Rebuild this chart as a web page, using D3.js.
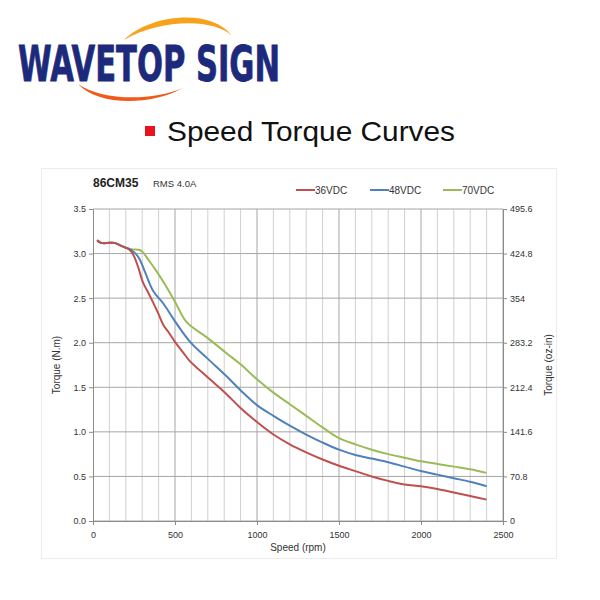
<!DOCTYPE html>
<html><head><meta charset="utf-8">
<script src="https://cdn.jsdelivr.net/npm/d3@7"></script>
<style>body{margin:0;background:#fff}</style>
</head><body>
<script>
const seriesNames = ["36VDC", "48VDC", "70VDC"];
const seriesColors = ["#c0504d", "#4f81bd", "#9bbb59"];
const speed36 = [25, 50, 100, 130, 180, 224, 245, 275, 306, 340, 367, 400, 429, 460, 500, 550, 592, 694, 816, 898, 1000, 1100, 1200, 1300, 1400, 1500, 1600, 1700, 1800, 1900, 2000, 2100, 2200, 2300, 2400];
const torque36 = [3.15, 3.12, 3.12, 3.12, 3.08, 3.04, 2.99, 2.85, 2.67, 2.55, 2.45, 2.32, 2.20, 2.12, 2.01, 1.89, 1.79, 1.62, 1.42, 1.27, 1.11, 0.97, 0.86, 0.77, 0.69, 0.62, 0.56, 0.50, 0.45, 0.41, 0.39, 0.36, 0.32, 0.28, 0.24];
const speed48 = [25, 50, 100, 130, 180, 224, 260, 286, 320, 367, 429, 500, 592, 694, 816, 898, 1000, 1100, 1200, 1300, 1400, 1500, 1600, 1700, 1800, 1900, 2000, 2100, 2200, 2300, 2400];
const torque48 = [3.15, 3.12, 3.12, 3.12, 3.08, 3.05, 3.00, 2.93, 2.78, 2.58, 2.44, 2.24, 2.01, 1.83, 1.62, 1.47, 1.30, 1.18, 1.07, 0.97, 0.88, 0.80, 0.74, 0.70, 0.66, 0.61, 0.56, 0.52, 0.48, 0.44, 0.39];
const speed70 = [25, 50, 100, 130, 180, 230, 286, 306, 350, 388, 440, 500, 571, 694, 816, 898, 1000, 1100, 1200, 1300, 1400, 1500, 1600, 1700, 1800, 1900, 2000, 2100, 2200, 2300, 2400];
const torque70 = [3.15, 3.12, 3.12, 3.12, 3.08, 3.05, 3.04, 3.01, 2.90, 2.80, 2.65, 2.46, 2.23, 2.06, 1.88, 1.76, 1.59, 1.44, 1.31, 1.18, 1.05, 0.93, 0.86, 0.80, 0.75, 0.71, 0.67, 0.64, 0.61, 0.58, 0.54];
const xTicks = [0, 500, 1000, 1500, 2000, 2500];
const yTicks = [0.0, 0.5, 1.0, 1.5, 2.0, 2.5, 3.0, 3.5];
const yRightTicks = ["0", "70.8", "141.6", "212.4", "283.2", "354", "424.8", "495.6"];

const svg = d3.select("body").append("svg").attr("width", 600).attr("height", 600);

// Logo
const logo = svg.append("g");
logo.append("path").attr("d", "M124,40 C150,14 212,8 232,36 C216,20 165,17 124,40 Z").attr("fill", "#f7a21b");
logo.append("path").attr("d", "M78,84 C100,100 150,102 183,88 C150,106 98,106 78,84 Z").attr("fill", "#f05a1a");
logo.append("text").attr("x", 18).attr("y", 81).attr("textLength", 262).attr("lengthAdjust", "spacingAndGlyphs")
  .attr("font-family", "Liberation Sans Narrow, Arial Narrow, DejaVu Sans Condensed, sans-serif").attr("font-weight", "bold")
  .attr("font-size", 49).attr("fill", "#1d2a7c").attr("stroke", "#1d2a7c").attr("stroke-width", 0.8).text("WAVETOP SIGN");

// Title
svg.append("rect").attr("x", 145).attr("y", 126).attr("width", 10).attr("height", 10).attr("fill", "#e8141c");
svg.append("text").attr("x", 167).attr("y", 141).attr("font-family", "Liberation Sans, Arial, sans-serif")
  .attr("font-size", 28).attr("textLength", 288).attr("lengthAdjust", "spacingAndGlyphs")
  .attr("fill", "#111").text("Speed Torque Curves");

// Chart panel border
svg.append("rect").attr("x", 41.5).attr("y", 168.5).attr("width", 515).attr("height", 390).attr("fill", "none").attr("stroke", "#ececec");

const x = d3.scaleLinear().domain([0, 2500]).range([93, 503]);
const y = d3.scaleLinear().domain([0, 3.5]).range([521, 209]);

// Grid
const g = svg.append("g");
d3.range(100, 2600, 100).forEach(v => {
  g.append("line").attr("x1", x(v)).attr("x2", x(v)).attr("y1", y(0)).attr("y2", y(3.5))
    .attr("stroke", v % 500 === 0 ? "#a6a6a6" : "#d0d0d0").attr("stroke-width", 1);
});
yTicks.forEach(v => {
  g.append("line").attr("x1", x(0)).attr("x2", x(2500)).attr("y1", y(v)).attr("y2", y(v))
    .attr("stroke", "#a6a6a6").attr("stroke-width", 1);
});

// Axes
const fontAxis = "Liberation Sans, Arial, sans-serif";
const xAxis = svg.append("g").attr("transform", `translate(0,${y(0)})`)
  .call(d3.axisBottom(x).tickValues(xTicks).tickSize(4).tickFormat(d3.format("d")));
const yAxis = svg.append("g").attr("transform", `translate(${x(0)},0)`)
  .call(d3.axisLeft(y).tickValues(yTicks).tickSize(4).tickFormat(d3.format(".1f")));
const yAxisR = svg.append("g").attr("transform", `translate(${x(2500)},0)`)
  .call(d3.axisRight(y).tickValues(yTicks).tickSize(4).tickFormat((d, i) => yRightTicks[i]));
[xAxis, yAxis, yAxisR].forEach(a => {
  a.selectAll("path").attr("stroke", "#8c8c8c");
  a.selectAll("line").attr("stroke", "#8c8c8c");
  a.selectAll("text").attr("font-family", fontAxis).attr("font-size", 9).attr("fill", "#333");
});
xAxis.selectAll("text").attr("dy", "1.1em");

svg.append("text").attr("x", 298).attr("y", 551).attr("text-anchor", "middle").attr("font-family", fontAxis)
  .attr("font-size", 10).attr("fill", "#333").text("Speed (rpm)");
svg.append("text").attr("transform", "translate(60,365) rotate(-90)").attr("text-anchor", "middle").attr("font-family", fontAxis)
  .attr("font-size", 10).attr("fill", "#333").text("Torque (N.m)");
svg.append("text").attr("transform", "translate(552,365) rotate(-90)").attr("text-anchor", "middle").attr("font-family", fontAxis)
  .attr("font-size", 10).attr("fill", "#333").text("Torque (oz-in)");

// Header
svg.append("text").attr("x", 93).attr("y", 187).attr("font-family", fontAxis).attr("font-weight", "bold")
  .attr("font-size", 12).attr("fill", "#222").text("86CM35");
svg.append("text").attr("x", 153).attr("y", 187).attr("font-family", fontAxis)
  .attr("font-size", 9.5).attr("fill", "#333").text("RMS 4.0A");

// Lines
const data = [[speed36, torque36], [speed48, torque48], [speed70, torque70]];
const line = d3.line().x(d => x(d[0])).y(d => y(d[1])).curve(d3.curveCatmullRom.alpha(0.5));
[2, 1, 0].forEach(i => {
  const pts = data[i][0].map((s, k) => [s, data[i][1][k]]);
  svg.append("path").datum(pts).attr("d", line).attr("fill", "none")
    .attr("stroke", seriesColors[i]).attr("stroke-width", 2);
});

// Legend
const legX = [296, 370, 443];
seriesNames.forEach((n, i) => {
  svg.append("line").attr("x1", legX[i]).attr("x2", legX[i] + 19).attr("y1", 190).attr("y2", 190)
    .attr("stroke", seriesColors[i]).attr("stroke-width", 2);
  svg.append("text").attr("x", legX[i] + 19).attr("y", 193.5).attr("font-family", fontAxis)
    .attr("font-size", 10).attr("fill", "#333").text(n);
});
</script>
</body></html>
